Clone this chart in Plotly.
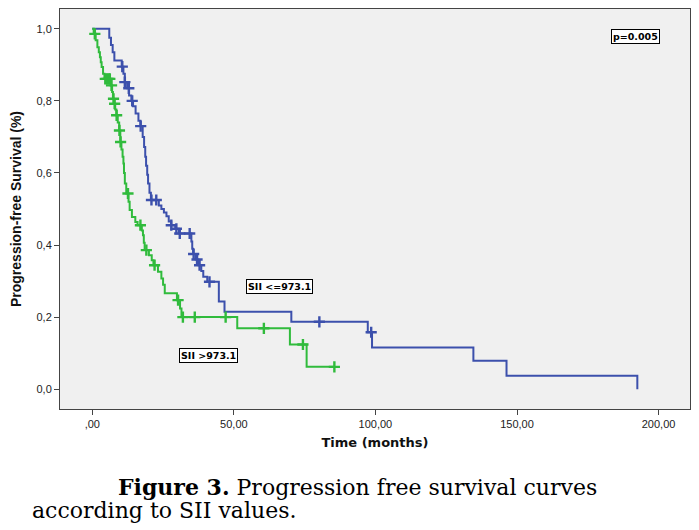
import plotly.graph_objects as go
import bisect

# ---- data ----
blue_t = [0, 6.0, 6.6, 7.2, 7.8, 10.4, 11.0, 11.5, 12.3, 13.0, 13.8, 14.4, 15.3, 16.3, 17.0,
          17.8, 18.3, 18.7, 19.0, 19.4, 19.7, 20.2, 20.7, 23.5, 24.4, 25.3, 26.2, 27.0, 27.9,
          29.3, 30.6, 35.0, 35.3, 35.6, 36.5, 37.5, 38.5, 39.2, 40.6, 44.7, 46.7, 70.3, 97.3,
          98.8, 134.6, 146.3, 192.5]
blue_s = [1.0, 0.975, 0.955, 0.935, 0.912, 0.895, 0.875, 0.852, 0.835, 0.815, 0.80, 0.785, 0.765,
          0.745, 0.73, 0.70, 0.672, 0.645, 0.62, 0.595, 0.571, 0.545, 0.525, 0.51, 0.50, 0.49,
          0.48, 0.465, 0.455, 0.445, 0.432, 0.41, 0.39, 0.375, 0.36, 0.344, 0.328, 0.312, 0.298,
          0.243, 0.215, 0.187, 0.158, 0.116, 0.079, 0.037, 0.0]
blue_cens = [10.6, 11.5, 12.9, 14.1, 17.1, 20.9, 22.6, 27.9, 29.7, 30.9, 34.4, 35.8, 37.0, 37.9,
             41.4, 80.2, 98.5]

green_t = [0, 0.5, 1.2, 1.8, 2.3, 2.7, 3.0, 3.3, 3.8, 4.3, 6.5, 7.0, 7.3, 7.7, 8.1, 8.5, 9.0,
           9.5, 9.9, 10.3, 10.7, 11.0, 11.2, 11.5, 12.0, 12.8, 13.2, 14.0, 15.2, 16.0, 17.5,
           17.9, 18.2, 18.5, 20.0, 21.0, 21.6, 23.2, 24.4, 25.0, 25.6, 29.9, 31.0, 31.5, 51.2,
           69.8, 75.7]
green_s = [1.0, 0.986, 0.968, 0.949, 0.935, 0.921, 0.907, 0.894, 0.875, 0.861, 0.843, 0.825,
           0.806, 0.792, 0.776, 0.760, 0.74, 0.718, 0.686, 0.665, 0.645, 0.626, 0.60, 0.571,
           0.543, 0.52, 0.497, 0.478, 0.464, 0.455, 0.44, 0.427, 0.406, 0.386, 0.372, 0.358,
           0.344, 0.326, 0.307, 0.29, 0.266, 0.247, 0.224, 0.20, 0.169, 0.124, 0.062]
green_cens = [0.9, 4.6, 5.2, 5.8, 6.2, 6.8, 7.5, 7.9, 8.6, 9.6, 10.0, 12.6, 17.0, 19.1, 22.0,
              30.3, 32.0, 36.2, 47.1, 60.6, 74.4, 85.5]
green_end = 85.5

x_tickvals = [0, 50, 100, 150, 200]
x_ticktext = [",00", "50,00", "100,00", "150,00", "200,00"]
y_tickvals = [0, 0.2, 0.4, 0.6, 0.8, 1.0]
y_ticktext = ["0,0", "0,2", "0,4", "0,6", "0,8", "1,0"]

p_text = "p=0.005"
label_low = "SII <=973.1"
label_high = "SII >973.1"
caption_1 = "<b>Figure 3.</b> Progression free survival curves"
caption_2 = "according to SII values."

BLUE = "#3c50ac"
GREEN = "#30bb3c"

W, H = 699, 530
ML, MR, MT, MB = 60, 9, 9, 121
PW, PH = W - ML - MR, H - MT - MB


def px_to_paper(px, py):
    return (px - ML) / PW, (H - MB - py) / PH


def level_at(ts, ss, t):
    i = bisect.bisect_right(ts, t) - 1
    return ss[max(i, 0)]


fig = go.Figure()

fig.add_trace(go.Scatter(x=blue_t, y=blue_s, mode="lines", line=dict(color=BLUE, width=2, shape="hv"),
                         showlegend=False, hoverinfo="skip"))
gx = green_t + [green_end]
gy = green_s + [green_s[-1]]
fig.add_trace(go.Scatter(x=gx, y=gy, mode="lines", line=dict(color=GREEN, width=2, shape="hv"),
                         showlegend=False, hoverinfo="skip"))

fig.add_trace(go.Scatter(x=blue_cens, y=[level_at(blue_t, blue_s, t) for t in blue_cens],
                         mode="markers",
                         marker=dict(symbol="cross-thin", size=8, line=dict(color=BLUE, width=2.4)),
                         showlegend=False, hoverinfo="skip"))
fig.add_trace(go.Scatter(x=green_cens, y=[level_at(green_t, green_s, t) for t in green_cens],
                         mode="markers",
                         marker=dict(symbol="cross-thin", size=8, line=dict(color=GREEN, width=2.4)),
                         showlegend=False, hoverinfo="skip"))

box_font = dict(family="DejaVu Sans", size=9.5, color="black")
c1x, c1y = px_to_paper(116, 487)
c2x, c2y = px_to_paper(30, 510)
cap_font = dict(family="DejaVu Serif", size=22, color="black")
ann = [
    dict(x=192, y=0.979, xref="x", yref="y", text="<b>" + p_text + "</b>", showarrow=False,
         font=box_font, bgcolor="white", bordercolor="black", borderwidth=1, borderpad=1),
    dict(x=66.0, y=0.284, xref="x", yref="y", text="<b>" + label_low + "</b>", showarrow=False,
         font=box_font, bgcolor="white", bordercolor="black", borderwidth=1, borderpad=1),
    dict(x=40.9, y=0.094, xref="x", yref="y", text="<b>" + label_high + "</b>", showarrow=False,
         font=box_font, bgcolor="white", bordercolor="black", borderwidth=1, borderpad=1),
    dict(x=c1x, y=c1y, xref="paper", yref="paper", xanchor="left", yanchor="middle",
         text=caption_1, showarrow=False, font=cap_font),
    dict(x=c2x, y=c2y, xref="paper", yref="paper", xanchor="left", yanchor="middle",
         text=caption_2, showarrow=False, font=cap_font),
]

fig.update_layout(
    width=W, height=H,
    margin=dict(l=ML, r=MR, t=MT, b=MB),
    paper_bgcolor="white",
    plot_bgcolor="#f0f0f0",
    font=dict(family="Liberation Sans", color="#222222"),
    annotations=ann,
    xaxis=dict(range=[-11.4, 211.1], tickvals=x_tickvals, ticktext=x_ticktext, automargin=False,
               showgrid=False, zeroline=False, showline=True, linecolor="#444444", linewidth=1,
               mirror=True, ticks="outside", ticklen=5, tickcolor="#444444",
               tickfont=dict(size=11, family="Liberation Sans", color="#222222"),
               title=dict(text="<b>Time (months)</b>", font=dict(size=13, family="DejaVu Sans", color="#111111"),
                          standoff=8)),
    yaxis=dict(range=[-0.055, 1.055], tickvals=y_tickvals, ticktext=y_ticktext, automargin=False,
               showgrid=False, zeroline=False, showline=True, linecolor="#444444", linewidth=1,
               mirror=True, ticks="outside", ticklen=5, tickcolor="#444444",
               tickfont=dict(size=11, family="Liberation Sans", color="#222222"),
               title=dict(text="<b>Progression-free Survival (%)</b>",
                          font=dict(size=14, family="Liberation Sans", color="#111111"), standoff=11)),
)

fig.write_html("out.html", config={"displayModeBar": False},
               post_script="document.body.style.margin='0px';")
